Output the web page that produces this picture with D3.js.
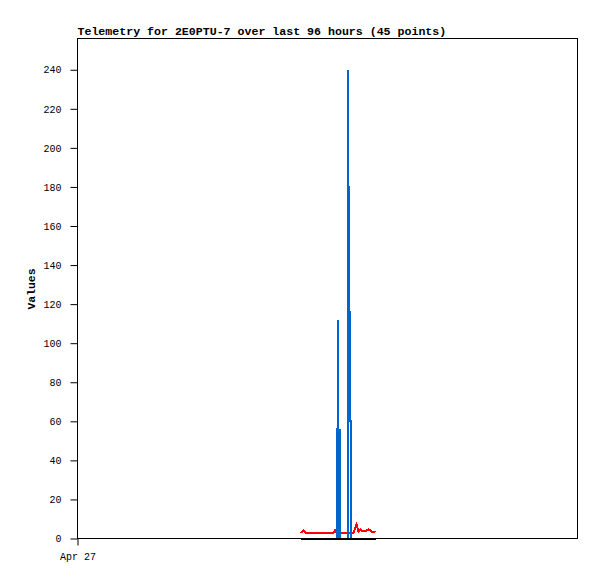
<!DOCTYPE html>
<html>
<head>
<meta charset="utf-8">
<script src="https://cdn.jsdelivr.net/npm/d3@7"></script>
<style>
    body { margin: 0; background: #fff; }
    svg { display: block; }
</style>
</head>
<body>
<div id="chart"></div>
<script>
// Hours after Apr 27 00:00
const startDate = new Date(2024, 3, 27, 0, 0, 0);
const spanHours = 96;

const redHours = [42.82, 43.39, 43.78, 44.74, 45.70, 46.66, 47.62, 48.58, 49.15, 49.44, 49.73, 50.50, 51.07, 51.65, 52.42, 52.99, 53.57, 53.95, 54.34, 54.72, 55.10, 55.49, 55.87, 56.26, 56.64, 57.22];
const redValues = [2.9, 4.1, 2.9, 2.9, 2.9, 2.9, 2.9, 2.9, 2.9, 4.1, 2.9, 2.9, 2.9, 2.9, 2.9, 2.9, 7.2, 3.6, 4.6, 3.6, 3.6, 4.1, 4.6, 4.1, 3.3, 3.1];

const blueHours = [49.82, 49.82, 50.11, 50.11, 50.11, 50.40, 50.40, 50.40,
                   51.84, 51.84, 52.03, 52.03, 52.03, 52.22, 52.22, 52.32, 52.42, 52.42];
const blueValues = [0, 56, 56, 112, 0, 0, 56, 0,
                    0, 120, 120, 240, 180, 180, 120, 60, 60, 0];

const blackHours = [42.82, 57.22];
const blackValues = [0, 0];

const yTicks = d3.range(0, 241, 20);
const xTickLabels = ["Apr 27"];

const titleText = "Telemetry for 2E0PTU-7 over last 96 hours (45 points)";
const yLabel = "Values";

const width = 597, height = 579;
const margin = {top: 38.5, left: 77.5, right: 19.5, bottom: 40.5};
const innerW = 500, innerH = 500;
const monoFont = "'Liberation Mono', 'DejaVu Sans Mono', monospace";

const svg = d3.select("#chart").append("svg")
    .attr("width", width)
    .attr("height", height);

const toDate = h => new Date(startDate.getTime() + h * 3600 * 1000);

const x = d3.scaleTime()
    .domain([startDate, toDate(spanHours)])
    .range([margin.left, margin.left + innerW]);

const y = d3.scaleLinear()
    .domain([0, 256])
    .range([margin.top + innerH, margin.top]);

// frame
svg.append("rect")
    .attr("x", margin.left)
    .attr("y", margin.top)
    .attr("width", innerW)
    .attr("height", innerH)
    .attr("fill", "none")
    .attr("stroke", "#000")
    .attr("stroke-width", 1);

// y axis
const yAxis = d3.axisLeft(y).tickValues(yTicks).tickSize(7).tickPadding(9);
svg.append("g")
    .attr("transform", `translate(${margin.left},0)`)
    .call(yAxis)
    .call(g => g.select(".domain").remove())
    .call(g => g.selectAll("line").attr("stroke", "#000"))
    .selectAll("text")
    .attr("fill", "#000")
    .style("font-family", monoFont)
    .style("font-size", "10px");

// x axis, single label at the start
const xAxis = d3.axisBottom(x)
    .tickValues([startDate])
    .tickFormat((d, i) => xTickLabels[i])
    .tickSize(7)
    .tickPadding(7);
svg.append("g")
    .attr("transform", `translate(0,${margin.top + innerH})`)
    .call(xAxis)
    .call(g => g.select(".domain").remove())
    .call(g => g.selectAll("line").attr("stroke", "#000"))
    .selectAll("text")
    .attr("fill", "#000")
    .style("font-family", monoFont)
    .style("font-size", "10px");

const line = d3.line()
    .x(d => x(toDate(d[0])))
    .y(d => y(d[1]));

function drawSeries(hours, values, color) {
    svg.append("path")
        .datum(d3.zip(hours, values))
        .attr("d", line)
        .attr("fill", "none")
        .attr("stroke", color)
        .attr("stroke-width", 2)
        .attr("shape-rendering", "crispEdges");
}

drawSeries(redHours, redValues, "#ff0000");
drawSeries(blueHours, blueValues, "#0066cc");
drawSeries(blackHours, blackValues, "#000000");

// title
svg.append("text")
    .attr("x", margin.left)
    .attr("y", 35)
    .attr("fill", "#000")
    .style("font-family", monoFont)
    .style("font-size", "11.6px")
    .style("font-weight", "bold")
    .text(titleText);

// y label
svg.append("text")
    .attr("transform", `translate(35,289) rotate(-90)`)
    .attr("text-anchor", "middle")
    .attr("fill", "#000")
    .style("font-family", monoFont)
    .style("font-size", "11.4px")
    .style("font-weight", "bold")
    .text(yLabel);
</script>
</body>
</html>
